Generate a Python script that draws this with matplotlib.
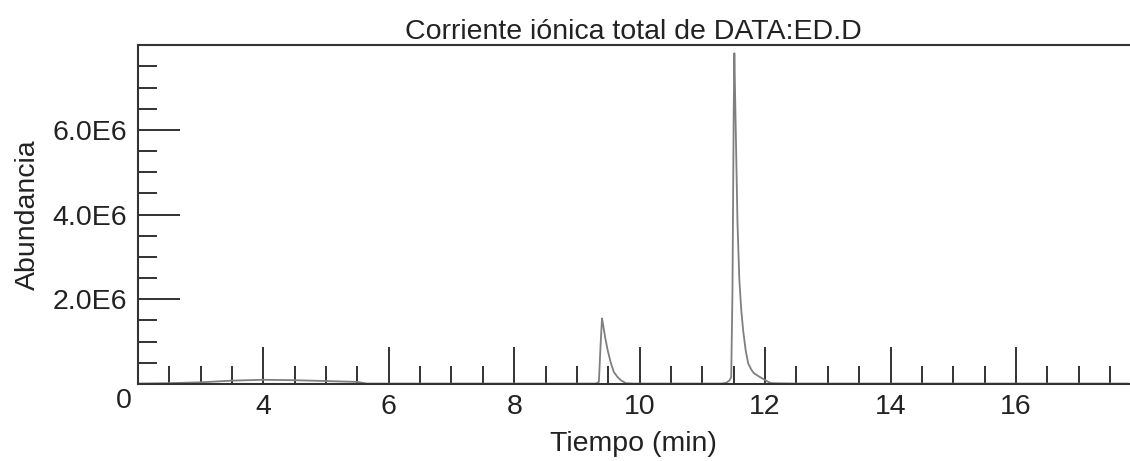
import numpy as np
import matplotlib.pyplot as plt
from matplotlib.ticker import MultipleLocator, FixedLocator

plt.rcParams['font.family'] = ['Liberation Sans', 'DejaVu Sans']

# chromatogram trace (time in min, abundance in counts)
tiempo = [2.0, 2.5, 3.0, 3.5, 4.0, 4.5, 5.0, 5.5, 5.65, 6.0, 8.0, 9.30,
          9.35, 9.38, 9.40, 9.42, 9.45, 9.49, 9.54, 9.59, 9.65, 9.70, 9.78,
          9.90, 10.5, 11.30, 11.38, 11.43, 11.46, 11.48, 11.50, 11.51, 11.53,
          11.56, 11.59, 11.62, 11.65, 11.69, 11.73, 11.78, 11.82, 11.90, 11.97,
          12.05, 12.10, 12.5, 17.8]
abundancia = [0.01e6, 0.02e6, 0.04e6, 0.08e6, 0.10e6, 0.09e6, 0.07e6, 0.05e6,
              0.01e6, 0.01e6, 0.01e6, 0.01e6,
              0.05e6, 1.0e6, 1.55e6, 1.38e6, 1.10e6, 0.80e6, 0.50e6, 0.28e6,
              0.16e6, 0.09e6, 0.02e6,
              0.01e6, 0.01e6, 0.01e6, 0.03e6, 0.08e6, 0.16e6, 2.2e6, 6.5e6,
              7.81e6, 6.2e6, 3.8e6, 2.45e6, 1.75e6, 1.27e6, 0.80e6, 0.49e6,
              0.34e6, 0.26e6, 0.18e6, 0.12e6, 0.05e6, 0.02e6, 0.01e6, 0.01e6]

xticks = [4, 6, 8, 10, 12, 14, 16]
yticks = [2e6, 4e6, 6e6]
ytick_labels = ['2.0E6', '4.0E6', '6.0E6']

fig = plt.figure(figsize=(11.3, 4.61), dpi=100)
ax = fig.add_axes([0.122, 0.167, 0.877, 0.735])

ax.plot(tiempo, abundancia, color='#7f7f7f', lw=1.3)

ax.set_xlim(2.0, 17.8)
ax.set_ylim(0, 8e6)

ax.xaxis.set_major_locator(FixedLocator(xticks))
ax.xaxis.set_minor_locator(MultipleLocator(0.5))
ax.yaxis.set_major_locator(FixedLocator(yticks))
ax.yaxis.set_minor_locator(MultipleLocator(0.5e6))
ax.set_yticklabels(ytick_labels)

fs = 20.5
ax.tick_params(which='major', direction='in', length=27, width=1.3, color='#222222',
               labelsize=fs, pad=7, labelcolor='#222222')
ax.tick_params(which='minor', direction='in', length=13, width=1.3, color='#222222')
ax.tick_params(axis='y', which='major', length=30, pad=8)
ax.tick_params(axis='y', which='minor', length=14)

for side in ['left', 'top', 'bottom']:
    ax.spines[side].set_linewidth(1.5)
    ax.spines[side].set_color('#333333')
ax.spines['right'].set_visible(False)

# "0" label sits below-left of the origin
ax.text(-0.006, -0.05, '0', transform=ax.transAxes, ha='right', va='center',
        fontsize=fs, color='#222222')

ax.set_title('Corriente iónica total de DATA:ED.D', fontsize=fs, pad=4, color='#222222')
ax.set_xlabel('Tiempo (min)', fontsize=fs, labelpad=8, color='#222222')
ax.set_ylabel('Abundancia', fontsize=fs, labelpad=8, color='#222222')

fig.savefig('out.png', dpi=100)
